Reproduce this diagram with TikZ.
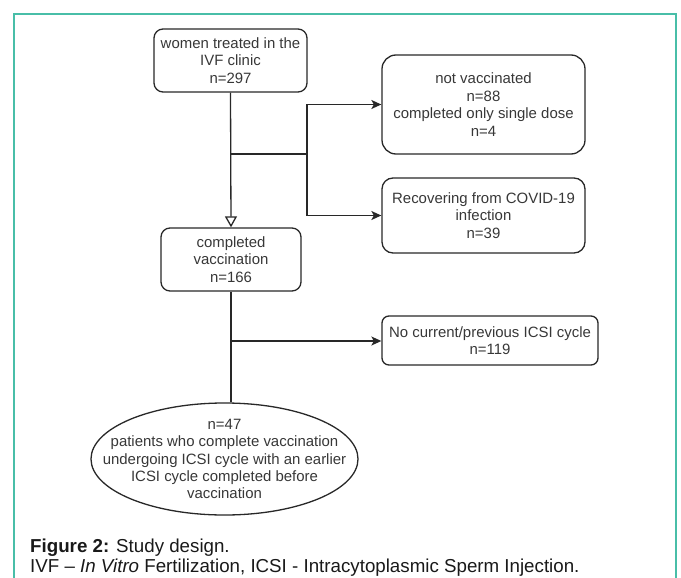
\documentclass[tikz,border=0pt]{standalone}
\usepackage{fontspec}
\setmainfont{Liberation Sans}
\usetikzlibrary{shapes.geometric}
\usetikzlibrary{positioning}
\usetikzlibrary{arrows.meta}
\definecolor{framegreen}{RGB}{72,190,168}
\definecolor{boxline}{RGB}{40,40,40}
\definecolor{boxtext}{RGB}{55,55,55}
\tikzset{box/.style={draw=boxline,rounded corners=9bp,line width=1.3bp,text=boxtext,align=center,inner sep=3bp},
         oval/.style={draw=boxline,ellipse,line width=1.3bp},
         link/.style={draw=boxline,line width=1.3bp},
         arr/.style={link,-{Stealth[length=10bp,width=9bp,inset=2.5bp]}},
         openarr/.style={link,-{Triangle[open,length=11bp,width=12bp]}},
         caption/.style={anchor=base west,inner sep=0pt,text=black!90,font=\fontsize{18.8}{20}\selectfont},
         }

\begin{document}
\begin{tikzpicture}[x=1bp, y=-1bp, font=\fontsize{15}{17.5}\selectfont]
\useasboundingbox (0,0) rectangle (681,578);
\draw[framegreen, line width=1.5bp] (14,578) -- (14,14) -- (676,14) -- (676,578);

\node[box, minimum width=153bp, minimum height=63bp] (women) at (230.5,60.5)
    {women treated in the\\IVF clinic\\n=297};
\node[box, rounded corners=14bp, minimum width=203bp, minimum height=99bp] (notvac) at (483.5,104.5)
    {not vaccinated\\n=88\\completed only single dose\\n=4};
\node[box, rounded corners=11bp, minimum width=203bp, minimum height=75bp] (recov) at (483.5,215.5)
    {Recovering from COVID-19\\infection\\n=39};
\node[box, minimum width=140bp, minimum height=63bp] (vacc) at (231,259.5)
    {completed\\vaccination\\n=166};
\node[box, rounded corners=7bp, minimum width=216bp, minimum height=49bp] (noicsi) at (490,340.5)
    {No current/previous ICSI cycle\\n=119};
\node[oval, minimum width=267bp, minimum height=112bp] (icsi) at (224.5,459) {};
\node[text=boxtext, align=center] (icsitext) at (icsi.center)
    {n=47\\patients who complete vaccination\\undergoing ICSI cycle with an earlier\\ICSI cycle completed before\\vaccination};

\coordinate (split) at (231,154);
\coordinate (bus) at (307,154);
\coordinate (split2) at (231,341);

\draw[openarr] (women.south) -- (vacc.north);
\draw[link] (split) -- (bus);
\draw[arr] (bus) |- (notvac.west);
\draw[arr] (bus) |- (recov.west);
\draw[arr] (split2) -- (split2 -| noicsi.west);
\draw[link] (vacc.south) -- (vacc.south |- icsi.north);

\node[caption] (cap1) at (30,552) {\textbf{Figure 2:} Study design.};
\node[caption] (cap2) at (30,572) {IVF \textendash\ \textit{In Vitro} Fertilization, ICSI - Intracytoplasmic Sperm Injection.};
\end{tikzpicture}
\end{document}
